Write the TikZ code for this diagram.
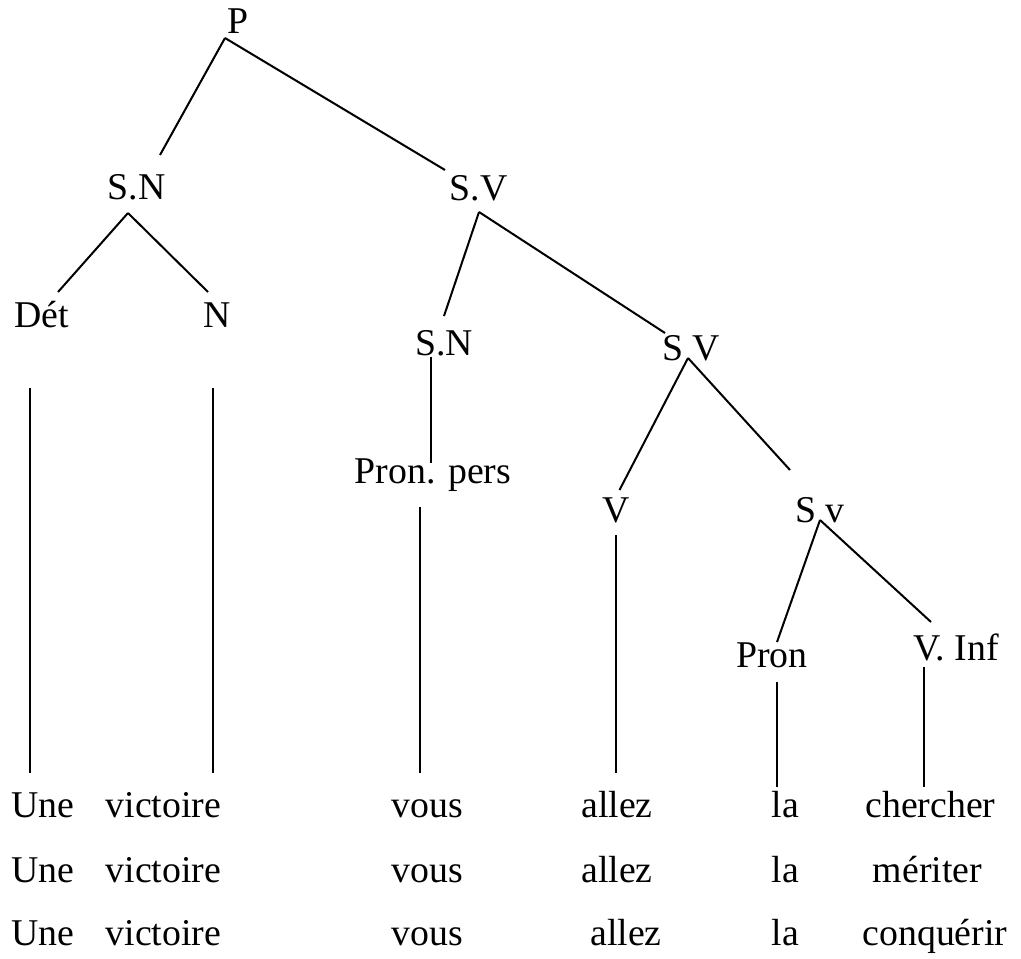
\documentclass[tikz,border=0pt]{standalone}
\usepackage{fontspec}
\setmainfont{Liberation Serif}

\begin{document}
\begin{tikzpicture}[
    x=0.5pt, y=-0.5pt,
    cat/.style={anchor=base, inner sep=0pt, font=\fontsize{18.9}{22}\selectfont},
    word/.style={cat},
    branch/.style={draw=black, line width=1pt},
    stem/.style={draw=black, line width=0.8pt}
    ]
        \useasboundingbox (0,0) rectangle (1021,958);

        %Nodes
        \node[cat] (P)    at (238.5,33)  {P};
        \node[cat] (SNa)  at (136.5,199) {S.N};
        \node[cat] (SVa)  at (478.5,200) {S.V};
        \node[cat] (Det)  at (41.5,327)  {Dét};
        \node[cat] (N)    at (217,327)   {N};
        \node[cat] (SNb)  at (444,355)   {S.N};
        \node[cat] (SVb)  at (691,360)   {S V};
        \node[cat] (PP)   at (433,483)   {Pron. pers};
        \node[cat] (V)    at (616.5,522) {V};
        \node[cat] (Sv)   at (820,522)   {S v};
        \node[cat] (Pron) at (772,667)   {Pron};
        \node[cat] (VInf) at (956,660)   {V. Inf};

        %Words
        \foreach \r/\y/\ax/\inf/\ix in {1/817/617/chercher/930.5,
                                        2/882/617/mériter/927.5,
                                        3/945/626/conquérir/935}{
            \node[word] (une\r)  at (43,\y)    {Une};
            \node[word] (vic\r)  at (163.5,\y) {victoire};
            \node[word] (vous\r) at (427,\y)   {vous};
            \node[word] (all\r)  at (\ax,\y)   {allez};
            \node[word] (la\r)   at (785.5,\y) {la};
            \node[word] (inf\r)  at (\ix,\y)   {\inf};
        }

        %Lines
        \draw[branch] ([shift={(-13.5,5)}]P.base) -- ([shift={(23.5,-44)}]SNa.base);
        \draw[branch] ([shift={(-13.5,5)}]P.base) -- ([shift={(-33.5,-30)}]SVa.base);
        \draw[branch] ([shift={(-8.5,14)}]SNa.base) -- ([shift={(16.5,-35)}]Det.base);
        \draw[branch] ([shift={(-8.5,14)}]SNa.base) -- ([shift={(-9,-35)}]N.base);
        \draw[branch] ([shift={(0.5,12)}]SVa.base) -- ([shift={(0,-39)}]SNb.base);
        \draw[branch] ([shift={(0.5,12)}]SVa.base) -- ([shift={(-26,-27)}]SVb.base);
        \draw[branch] ([shift={(-13,2)}]SNb.base) -- ([shift={(-2,-20)}]PP.base);
        \draw[branch] ([shift={(-3,-2)}]SVb.base) -- ([shift={(3,-32)}]V.base);
        \draw[branch] ([shift={(-3,-2)}]SVb.base) -- ([shift={(-30,-52)}]Sv.base);
        \draw[branch] ([shift={(0,-2)}]Sv.base) -- ([shift={(5,-25)}]Pron.base);
        \draw[branch] ([shift={(0,-2)}]Sv.base) -- ([shift={(-25,-38)}]VInf.base);

        \draw[stem] ([shift={(-11.5,61)}]Det.base) -- ([shift={(-13,-44)}]une1.base);
        \draw[stem] ([shift={(-4,61)}]N.base) -- ([shift={(49.5,-44)}]vic1.base);
        \draw[stem] ([shift={(-13,24)}]PP.base) -- ([shift={(-7,-44)}]vous1.base);
        \draw[stem] ([shift={(-0.5,13)}]V.base) -- ([shift={(-1,-44)}]all1.base);
        \draw[stem] ([shift={(5,15)}]Pron.base) -- ([shift={(-8.5,-30)}]la1.base);
        \draw[stem] ([shift={(-32,7)}]VInf.base) -- ([shift={(-6.5,-30)}]inf1.base);
    \end{tikzpicture}
\end{document}
